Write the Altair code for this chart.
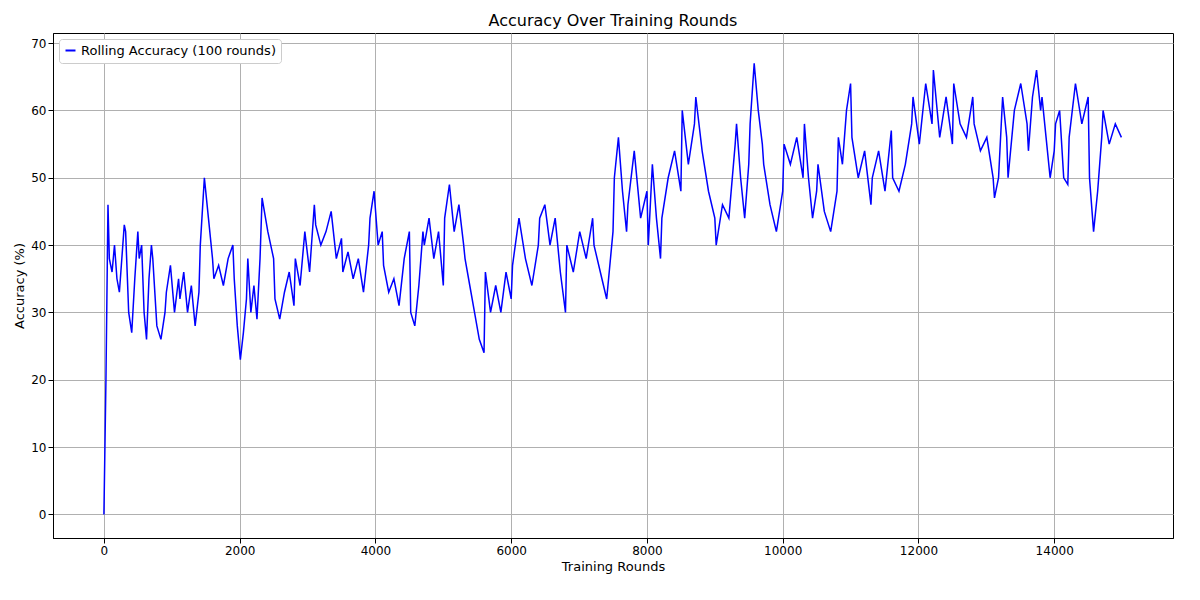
import altair as alt
import pandas as pd

# Rolling accuracy: (start round, end round, readings)
segments = [
    (0, 60, [0, 20, 46]),
    (80, 100, [38]),
    (120, 300, [36, 40, 35, 33, 38, 43]),
    (320, 500, [42, 30, 27, 35, 42]),
    (520, 700, [38, 40, 30, 26, 35, 40]),
    (720, 900, [38, 28, 26, 30]),
    (920, 1100, [33, 37, 30, 35]),
    (1120, 1400, [32, 36, 30, 34, 28, 33]),
    (1420, 1600, [40, 50, 44, 38]),
    (1620, 1900, [35, 37, 34, 38, 40]),
    (1920, 2100, [35, 28, 23, 27, 32]),
    (2120, 2300, [38, 30, 34, 29, 38]),
    (2330, 2500, [47, 42, 38]),
    (2520, 2800, [32, 29, 33, 36, 31]),
    (2820, 3100, [38, 34, 42, 36, 46]),
    (3120, 3500, [43, 40, 42, 45, 38, 41]),
    (3520, 3900, [36, 39, 35, 38, 33, 40]),
    (3920, 4100, [44, 48, 40, 42]),
    (4120, 4500, [37, 33, 35, 31, 38, 42]),
    (4520, 4700, [30, 28, 34, 42]),
    (4720, 5000, [40, 44, 38, 42, 34]),
    (5020, 5300, [44, 49, 42, 46, 40]),
    (5320, 5600, [38, 34, 30, 26, 24]),
    (5620, 6000, [36, 30, 34, 30, 36, 32]),
    (6020, 6400, [37, 44, 38, 34, 40]),
    (6420, 6800, [44, 46, 40, 44, 36, 30]),
    (6820, 7200, [40, 36, 42, 38, 44]),
    (7220, 7500, [40, 36, 32, 42]),
    (7520, 7700, [50, 56, 48, 42]),
    (7720, 8000, [46, 54, 44, 48]),
    (8020, 8200, [40, 52, 44, 38]),
    (8220, 8500, [44, 50, 54, 48]),
    (8520, 8700, [60, 52, 58]),
    (8720, 9000, [62, 54, 48, 44]),
    (9020, 9300, [40, 46, 44, 55]),
    (9320, 9500, [58, 50, 44, 52]),
    (9520, 9700, [58, 67, 60, 55]),
    (9720, 10000, [52, 46, 42, 48]),
    (10020, 10300, [55, 52, 56, 50]),
    (10320, 10500, [58, 50, 44, 48]),
    (10520, 10800, [52, 45, 42, 48]),
    (10820, 11000, [56, 52, 60, 64]),
    (11020, 11300, [56, 50, 54, 46]),
    (11320, 11600, [50, 54, 48, 57]),
    (11620, 11900, [50, 48, 52, 58]),
    (11920, 12200, [62, 55, 64, 58]),
    (12220, 12500, [66, 56, 62, 55]),
    (12520, 12800, [64, 58, 56, 62]),
    (12820, 13100, [58, 54, 56, 50]),
    (13120, 13300, [47, 50, 62, 56]),
    (13320, 13600, [50, 60, 64, 58]),
    (13620, 13800, [54, 62, 66, 60]),
    (13820, 14000, [62, 56, 50, 54]),
    (14020, 14200, [58, 60, 50, 49]),
    (14220, 14500, [56, 64, 58, 62]),
    (14520, 14700, [50, 42, 48, 56]),
    (14720, 14990, [60, 55, 58, 56]),
]

rounds, accuracy = [], []
for start, end, vals in segments:
    n = len(vals)
    for i, v in enumerate(vals):
        rounds.append(start if n == 1 else round(start + (end - start) * i / (n - 1)))
        accuracy.append(v)

df = pd.DataFrame({
    "round": rounds,
    "accuracy": accuracy,
    "series": "Rolling Accuracy (100 rounds)",
})

chart = alt.Chart(df).mark_line(strokeWidth=1.5).encode(
    x=alt.X("round:Q", title="Training Rounds",
            scale=alt.Scale(domain=[-750, 15750], nice=False, zero=False),
            axis=alt.Axis(values=list(range(0, 15000, 2000)), format="d")),
    y=alt.Y("accuracy:Q", title="Accuracy (%)",
            scale=alt.Scale(domain=[-3.5, 71.5], nice=False, zero=False),
            axis=alt.Axis(values=list(range(0, 80, 10)))),
    color=alt.Color("series:N", title=None,
                    scale=alt.Scale(range=["#0000ff"]),
                    legend=alt.Legend(orient="top-left", symbolType="stroke",
                                      symbolStrokeWidth=2, fillColor="white",
                                      strokeColor="#cccccc", padding=5,
                                      cornerRadius=3, labelFontSize=13,
                                      labelLimit=0, offset=6)),
).properties(
    width=1120,
    height=505,
    title="Accuracy Over Training Rounds",
    background="white",
).configure_axis(
    gridColor="#b0b0b0",
    domainColor="black",
    tickColor="black",
    labelColor="black",
    titleColor="black",
    labelFont="DejaVu Sans",
    titleFont="DejaVu Sans",
    labelFontSize=12,
    titleFontSize=13,
    titleFontWeight="normal",
).configure_legend(
    labelFont="DejaVu Sans",
).configure_title(
    font="DejaVu Sans",
    fontSize=16,
    fontWeight="normal",
).configure_view(
    stroke="black",
)

chart.save("out.html", embed_options={"renderer": "svg", "actions": False})
